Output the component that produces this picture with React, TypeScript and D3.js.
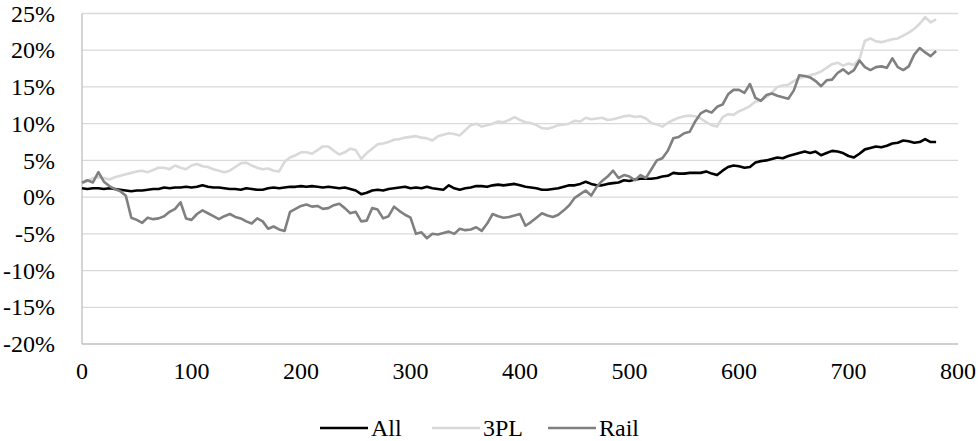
import { useEffect, useRef } from "react";
import * as d3 from "d3";

// one reading every 5 days
const STEP = 5;

const allValues = [
  1.2, 1.1, 1.2, 1.2, 1.1, 1.2, 1.1, 1.0, 0.9, 0.8,
  0.9, 0.9, 1.0, 1.1, 1.1, 1.3, 1.2, 1.3, 1.3, 1.4,
  1.3, 1.4, 1.6, 1.4, 1.3, 1.3, 1.2, 1.1, 1.1, 1.0,
  1.2, 1.1, 1.0, 1.0, 1.2, 1.3, 1.2, 1.3, 1.4, 1.4,
  1.5, 1.4, 1.5, 1.4, 1.3, 1.4, 1.3, 1.2, 1.3, 1.1,
  0.9, 0.4, 0.6, 0.9, 1.0, 0.9, 1.1, 1.2, 1.3, 1.4,
  1.2, 1.3, 1.2, 1.4, 1.2, 1.1, 1.0, 1.6, 1.2, 1.0,
  1.2, 1.3, 1.5, 1.5, 1.4, 1.6, 1.7, 1.6, 1.7, 1.8,
  1.6, 1.4, 1.3, 1.2, 1.0, 1.0, 1.1, 1.2, 1.4, 1.6,
  1.6, 1.8, 2.1, 1.8, 1.6, 1.6, 1.8, 1.9, 2.0, 2.3,
  2.2, 2.4, 2.5, 2.5, 2.5, 2.6, 2.8, 2.9, 3.3, 3.2,
  3.2, 3.3, 3.3, 3.3, 3.5, 3.2, 3.0, 3.6, 4.1, 4.3,
  4.2, 4.0, 4.1, 4.7, 4.9, 5.0, 5.2, 5.4, 5.3, 5.6,
  5.8, 6.0, 6.2, 6.0, 6.2, 5.7, 6.0, 6.3, 6.2, 6.0,
  5.6, 5.4, 5.9, 6.5, 6.7, 6.9, 6.8, 7.0, 7.3, 7.4,
  7.7, 7.6, 7.4, 7.5, 7.9, 7.5, 7.5,
];

const tplValues = [
  1.9, 2.2, 2.6, 2.7, 2.6, 2.4, 2.7, 2.9, 3.1, 3.3,
  3.5, 3.6, 3.4, 3.7, 4.0, 4.0, 3.8, 4.3, 4.0, 3.8,
  4.3, 4.5, 4.2, 4.1, 3.8, 3.6, 3.4, 3.6, 4.1, 4.6,
  4.7, 4.3, 4.0, 3.8, 3.9, 3.6, 3.5, 4.8, 5.4, 5.7,
  6.1, 6.1, 5.9, 6.4, 6.9, 6.9, 6.3, 5.8, 6.1, 6.6,
  6.4, 5.2, 6.0, 6.6, 7.2, 7.3, 7.5, 7.8, 7.9, 8.1,
  8.2, 8.3, 8.1, 8.0, 7.7, 8.3, 8.5, 8.7, 8.6, 8.4,
  9.1, 9.8, 10.0, 9.6, 9.8, 10.0, 10.3, 10.2, 10.5, 10.9,
  10.5, 10.2, 10.1, 9.8, 9.4, 9.3, 9.5, 9.8, 9.9, 10.0,
  10.4, 10.3, 10.8, 10.6, 10.7, 10.8, 10.5, 10.6, 10.8, 11.0,
  11.1, 10.9, 11.0, 10.7, 10.1, 9.9, 9.6, 10.1, 10.5, 10.8,
  11.0, 11.1, 11.0, 10.7, 10.2, 9.8, 9.6, 10.9, 11.3, 11.2,
  11.7, 12.0, 12.4, 13.0, 13.2, 13.6, 14.2, 15.0, 15.2, 15.3,
  15.8, 16.2, 16.4, 16.6, 16.8, 17.1, 17.6, 18.1, 18.3, 17.9,
  18.2, 18.0, 18.8, 21.3, 21.6, 21.2, 21.1, 21.3, 21.5, 21.6,
  22.0, 22.4, 22.9, 23.6, 24.5, 23.8, 24.2,
];

const railValues = [
  1.95, 2.3, 2.0, 3.4, 2.1, 1.5, 1.1, 0.8, 0.2, -2.8,
  -3.1, -3.5, -2.8, -3.0, -2.9, -2.6, -2.0, -1.6, -0.7, -2.9,
  -3.1, -2.3, -1.8, -2.2, -2.6, -3.0, -2.6, -2.3, -2.7, -2.9,
  -3.3, -3.6, -2.9, -3.3, -4.3, -4.0, -4.4, -4.6, -2.0, -1.6,
  -1.2, -1.0, -1.3, -1.2, -1.6, -1.5, -1.1, -0.9, -1.5, -2.2,
  -2.0, -3.3, -3.2, -1.5, -1.7, -2.9, -2.6, -1.3, -1.9, -2.4,
  -2.8, -5.0, -4.8, -5.6, -5.0, -5.1, -4.9, -4.7, -5.0, -4.3,
  -4.5, -4.4, -4.1, -4.6, -3.6, -2.3, -2.6, -2.8, -2.7, -2.5,
  -2.3, -3.9, -3.4, -2.8, -2.2, -2.5, -2.7, -2.4, -1.8, -1.1,
  -0.1, 0.4, 0.9, 0.2, 1.4, 2.2, 2.8, 3.6, 2.6, 3.0,
  2.8, 2.3, 3.0, 2.6, 3.8, 5.0, 5.3, 6.3, 8.0, 8.2,
  8.7, 8.9, 10.3, 11.4, 11.8, 11.5, 12.3, 12.6, 14.0, 14.6,
  14.6, 14.2, 15.4, 13.5, 13.1, 13.9, 14.1, 13.8, 13.6, 13.4,
  14.5, 16.6, 16.5, 16.3, 15.8, 15.1, 15.9, 16.0, 16.9, 17.4,
  16.8, 17.3, 18.6, 17.7, 17.3, 17.7, 17.8, 17.6, 18.9, 17.7,
  17.3, 17.8, 19.4, 20.3, 19.7, 19.2, 19.9,
];

const seriesNames = ["All", "3PL", "Rail"];
const seriesColors = ["#000000", "#d9d9d9", "#808080"];
const yTicks = [-20, -15, -10, -5, 0, 5, 10, 15, 20, 25];
const xTicks = [0, 100, 200, 300, 400, 500, 600, 700, 800];

const FONT = "Liberation Serif, Times New Roman, serif";

const App = () => {
  const svgRef = useRef(null);

  useEffect(() => {
    const width = 979;
    const height = 441;
    const margin = { top: 13.5, right: 21, bottom: 97, left: 82 };

    const svg = d3.select(svgRef.current);
    svg.selectAll("*").remove();

    const xScale = d3.scaleLinear().domain([0, 800]).range([margin.left, width - margin.right]);
    const yScale = d3.scaleLinear().domain([-20, 25]).range([height - margin.bottom, margin.top]);

    // gridlines
    svg.append("g")
      .selectAll("line")
      .data(yTicks.filter((d) => d !== -20))
      .join("line")
      .attr("x1", xScale(0))
      .attr("x2", xScale(800))
      .attr("y1", (d) => yScale(d))
      .attr("y2", (d) => yScale(d))
      .attr("stroke", "#d9d9d9")
      .attr("stroke-width", 1.3);

    // axis lines
    svg.append("line")
      .attr("x1", xScale(0)).attr("x2", xScale(0))
      .attr("y1", yScale(25)).attr("y2", yScale(-20))
      .attr("stroke", "#bfbfbf").attr("stroke-width", 1.3);
    svg.append("line")
      .attr("x1", xScale(0)).attr("x2", xScale(800))
      .attr("y1", yScale(-20)).attr("y2", yScale(-20))
      .attr("stroke", "#bfbfbf").attr("stroke-width", 1.3);

    // y labels
    svg.append("g")
      .selectAll("text")
      .data(yTicks)
      .join("text")
      .attr("x", 55)
      .attr("y", (d) => yScale(d))
      .attr("dy", "0.34em")
      .attr("text-anchor", "end")
      .style("font-family", FONT)
      .style("font-size", "24px")
      .attr("fill", "#000")
      .text((d) => `${d}%`);

    // x labels
    svg.append("g")
      .selectAll("text")
      .data(xTicks)
      .join("text")
      .attr("x", (d) => xScale(d))
      .attr("y", 379)
      .attr("text-anchor", "middle")
      .style("font-family", FONT)
      .style("font-size", "24px")
      .attr("fill", "#000")
      .text((d) => d);

    // lines
    const line = d3.line<number>()
      .x((_, i) => xScale(i * STEP))
      .y((d) => yScale(d));

    [allValues, tplValues, railValues].forEach((vals, k) => {
      svg.append("path")
        .datum(vals)
        .attr("d", line)
        .attr("fill", "none")
        .attr("stroke", seriesColors[k])
        .attr("stroke-width", 2.6)
        .attr("stroke-linejoin", "round");
    });

    // legend
    const legendX = [320, 432, 548];
    const legend = svg.append("g")
      .selectAll("g")
      .data(seriesNames)
      .join("g")
      .attr("transform", (_, i) => `translate(${legendX[i]}, 428)`);
    legend.append("line")
      .attr("x1", 0).attr("x2", 48)
      .attr("stroke", (_, i) => seriesColors[i])
      .attr("stroke-width", 2.6);
    legend.append("text")
      .attr("x", 51)
      .attr("dy", "0.34em")
      .style("font-family", FONT)
      .style("font-size", "24px")
      .attr("fill", "#000")
      .text((d) => d);
  }, []);

  return (
    <svg
      ref={svgRef}
      width={979}
      height={441}
      style={{ position: "absolute", left: 0, top: 0, background: "#fff", fontFamily: FONT }}
    />
  );
};

export default App;
